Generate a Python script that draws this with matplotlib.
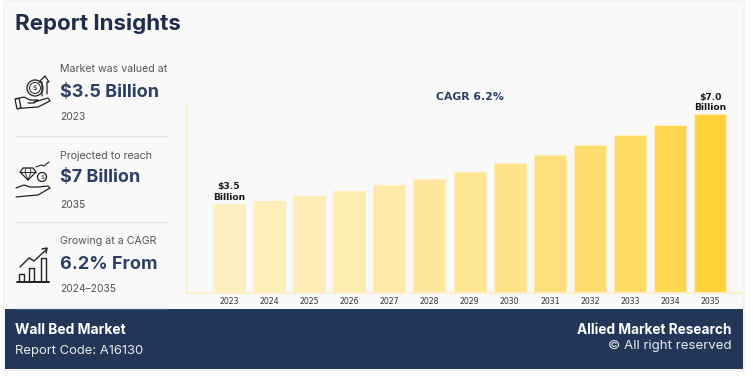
import matplotlib
matplotlib.use("Agg")
import matplotlib.pyplot as plt
from matplotlib.patches import Rectangle, Circle, Polygon
from matplotlib.lines import Line2D

years = ["2023","2024","2025","2026","2027","2028","2029","2030","2031","2032","2033","2034","2035"]
values = [3.5,3.62,3.8,4.0,4.22,4.48,4.76,5.09,5.41,5.79,6.18,6.58,7.0]
bar_colors = ["#FEF0BF","#FEEFBB","#FEEEB6","#FEEDB0","#FEEAA8","#FEE79C","#FEE594","#FEE288","#FEDF7C","#FEDC6E","#FEDA62","#FFD650","#FFD23C"]
labelled = {"2023": "$3.5\nBillion", "2035": "$7.0\nBillion"}

W, H = 753, 382
NAVY = "#243657"
TITLE = "#1f2e4d"
BLUE = "#2c4066"
GREY = "#555555"
FONT = "Inter"

fig = plt.figure(figsize=(W/100, H/100), dpi=100, facecolor="white")
bg = fig.add_axes([0, 0, 1, 1], zorder=0)
bg.set_xlim(0, W); bg.set_ylim(H, 0); bg.axis("off")
bg.add_patch(Rectangle((3, 0), 742, 372, fc="#f4f4f5", ec="none"))
bg.add_patch(Rectangle((5, 2), 738, 307, fc="#f9f9fa", ec="none"))
bg.add_patch(Rectangle((5, 309), 738, 60, fc=NAVY, ec="none"))

def t(x, y, s, size, color, weight="normal", ha="left", family=FONT):
    bg.text(x, y, s, fontsize=size, color=color, fontweight=weight, ha=ha, va="center", family=family)

t(15, 23.5, "Report Insights", 16.1, TITLE, "bold")
t(60.5, 69.5, "Market was valued at", 7.6, GREY)
t(60.5, 92.5, "$3.5 Billion", 13.0, BLUE, "bold")
t(60.5, 117.5, "2023", 7.4, GREY)
t(60.5, 156, "Projected to reach", 7.6, GREY)
t(60.5, 178, "$7 Billion", 13.0, BLUE, "bold")
t(60.5, 204.5, "2035", 7.4, GREY)
t(60.5, 241.5, "Growing at a CAGR", 7.6, GREY)
t(60.5, 264.5, "6.2% From", 13.0, BLUE, "bold")
t(60.5, 289.5, "2024–2035", 7.4, GREY)
t(15, 330.5, "Wall Bed Market", 10.0, "white", "bold")
t(15, 351, "Report Code: A16130", 9.4, "#e8eaee")
t(732, 329.5, "Allied Market Research", 9.8, "white", "bold", ha="right")
t(732, 346.5, "© All right reserved", 9.6, "#e8eaee", ha="right")
t(469.5, 97, "CAGR 6.2%", 7.8, BLUE, "bold", ha="center", family="DejaVu Sans")

for y in (136, 222, 308):
    bg.add_line(Line2D([15, 167], [y, y], color="#e6e6e8", lw=1))

# Icons
ik = dict(color="#222222", lw=1.0, solid_capstyle="round")
def pl(pts, **kw):
    xs, ys = zip(*pts)
    bg.add_line(Line2D(xs, ys, **{**ik, **kw}))
pl([(16,99),(24,97),(30,100),(38,100),(34,103),(28,103)], lw=0.9)
pl([(34,102),(48,98),(50,101),(38,107),(24,108),(20,108)], lw=0.9)
bg.add_patch(Polygon([(15,99),(19,98),(21,108),(17,109)], fc="none", ec="#222222", lw=0.9))
bg.add_patch(Circle((35,88), 8, fc="none", ec="#222222", lw=0.9))
bg.add_patch(Circle((35,88), 5.5, fc="none", ec="#222222", lw=0.7))
bg.text(35, 88, "$", fontsize=5, ha="center", va="center", color="#222222", family="DejaVu Sans")
pl([(42,96),(42,82),(39,82),(45,76),(49,82),(47,82),(47,94)], lw=0.9)
bg.add_patch(Polygon([(23,168),(33,168),(36,172),(28,180),(20,172)], fc="none", ec="#222222", lw=0.9))
pl([(20,172),(36,172)], lw=0.7); pl([(26,168),(25,172),(28,180),(31,172),(30,168)], lw=0.6)
bg.add_patch(Circle((42,177), 4.5, fc="none", ec="#222222", lw=0.9))
bg.text(42, 177, "$", fontsize=4.5, ha="center", va="center", color="#222222", family="DejaVu Sans")
pl([(36,167),(41,165),(44,166),(49,162)], lw=0.8)
pl([(16,188),(24,185),(30,187),(38,187),(48,186),(50,188),(38,195),(26,196),(16,197)], lw=0.9)
pl([(17,282),(49,282)], lw=1.4)
for x0, top in ((19,274),(29,268),(41,258)):
    pl([(x0,281),(x0,top),(x0+5,top),(x0+5,281)], lw=1.0)
pl([(20,267),(29,258),(34,261),(47,249)], lw=1.0)
pl([(42,249),(47,248),(46,253)], lw=1.0)

# Chart: pixel frame 187..743 x 105..293
ax = fig.add_axes([187/W, 1-293/H, (743-187)/W, (293-105)/H], zorder=1)
ax.patch.set_alpha(0)
pos = list(range(len(years)))
ax.bar(pos, values, width=0.8, color=bar_colors, edgecolor="#FFEFB5", linewidth=0.8)
ax.set_xlim(-1.047, 12.82)
ax.set_ylim(0, 7.37)
ax.set_xticks(pos, years)
ax.set_yticks([])
ax.tick_params(axis="x", length=0, pad=3.2, labelsize=5.6, labelcolor="#333333")
for s in ("top", "right"):
    ax.spines[s].set_visible(False)
for s in ("left", "bottom"):
    ax.spines[s].set_color("#FDF0C8")
    ax.spines[s].set_linewidth(1.4)
for p, y, v in zip(pos, years, values):
    if y in labelled:
        ax.annotate(labelled[y], (p, v), xytext=(0, 1.5), textcoords="offset points",
                    ha="center", va="bottom", fontsize=6.6, fontweight="bold",
                    color="#1a1a1a", linespacing=1.2, family="DejaVu Sans")

fig.savefig("out.png", dpi=100, facecolor="white")
